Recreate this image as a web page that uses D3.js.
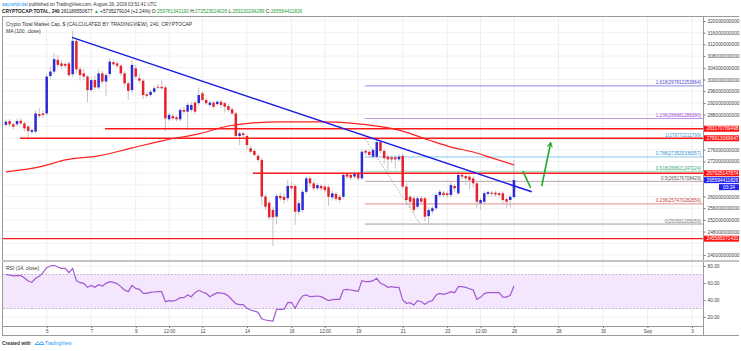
<!DOCTYPE html>
<html>
<head>
<meta charset="utf-8">
<script src="https://cdnjs.cloudflare.com/ajax/libs/d3/7.8.5/d3.min.js"></script>
<style>
  body { margin: 0; background: #fff; }
  svg { display: block; font-family: "Liberation Sans", Arial, sans-serif; }
</style>
</head>
<body>
<div class="canvas"></div>
<script>
// 4h bars from Aug 3 2019 04:00 UTC, prices in billions of USD
const candleOpen = [
  284.5, 285.8, 284.7, 284.7, 285.9, 285.0, 283.9, 282.1, 282.2, 288.2, 288.4,
  288.4, 301.2, 302.7, 306.7, 305.5, 305.3, 305.5, 301.8, 313.2, 303.5,
  302.1, 301.0, 296.4, 299.8, 297.3, 302.1, 299.3, 301.9, 305.9, 305.5,
  304.7, 302.1, 298.7, 296.4, 303.8, 300.4, 299.6, 294.9, 294.7, 295.8,
  297.5, 297.5, 297.3, 286.4, 287.5, 287.1, 286.4, 289.6, 289.0, 289.6,
  292.1, 291.9, 295.3, 293.0, 291.3, 292.1, 291.6, 292.4, 291.9, 290.9,
  289.8, 288.4, 280.7, 281.6, 280.7, 276.5, 275.6, 273.9, 272.5, 260.0,
  257.9, 255.4, 253.1, 260.2, 259.9, 259.4, 263.6, 263.6, 254.8, 255.4,
  261.6, 266.2, 264.5, 262.8, 263.6, 263.4, 263.2, 259.7, 260.9, 259.9,
  259.9, 267.6, 267.4, 266.8, 267.9, 266.2, 275.6, 275.3, 273.6, 273.6,
  278.6, 275.6, 273.6, 273.4, 273.4, 272.7, 273.9, 263.4, 259.9, 259.4,
  256.5, 259.4, 259.4, 253.3, 255.0, 256.0, 260.5, 261.3, 261.1, 260.5,
  263.6, 261.1, 267.4, 267.0, 266.8, 266.2, 264.5, 257.7, 258.2, 260.9,
  261.3, 261.3, 261.1, 261.1, 259.1, 258.8, 259.8
]
const candleClose = [
  285.6, 284.7, 283.9, 285.8, 285.0, 283.3, 282.4, 282.7, 288.4, 287.6, 287.9,
  301.0, 302.7, 307.0, 305.0, 304.6, 304.7, 301.5, 313.2, 303.5, 301.5,
  301.0, 296.4, 299.8, 297.3, 302.1, 299.3, 301.5, 306.1, 305.2, 304.7,
  302.1, 298.7, 296.1, 305.0, 301.0, 299.6, 294.7, 294.4, 295.8, 297.0,
  297.2, 297.0, 286.7, 287.9, 286.7, 286.4, 289.6, 289.0, 291.3, 291.3,
  289.0, 294.7, 293.0, 291.9, 292.1, 290.7, 292.4, 291.3, 290.7, 289.6,
  288.4, 280.7, 281.6, 281.0, 277.6, 275.3, 274.2, 272.5, 260.0, 256.5,
  252.9, 252.9, 260.2, 259.4, 258.8, 263.6, 262.8, 254.8, 257.7, 261.6,
  266.2, 264.5, 262.8, 263.9, 262.8, 262.2, 259.9, 261.1, 259.2, 258.8,
  267.4, 266.8, 266.4, 267.9, 266.2, 275.3, 275.0, 274.2, 275.9, 278.6,
  275.6, 273.1, 272.7, 272.7, 272.7, 273.6, 263.4, 258.8, 258.2, 255.4,
  259.4, 258.2, 253.1, 255.4, 256.0, 260.5, 261.6, 260.5, 260.5, 263.9,
  262.8, 267.4, 266.8, 266.2, 265.6, 264.5, 258.2, 258.8, 261.1, 261.5,
  260.9, 260.7, 260.5, 258.8, 258.2, 259.9, 265.6
]
const candleHigh = [
  286.5, 286.6, 285.3, 286.6, 286.8, 285.7, 284.6, 283.2, 289.6, 290.3, 289.4,
  301.8, 304.5, 309.0, 308.4, 306.5, 306.0, 306.2, 316.8, 313.8, 304.5,
  303.5, 301.6, 300.6, 301.2, 303.5, 303.0, 302.1, 307.3, 306.8, 306.4,
  305.2, 302.8, 299.5, 306.8, 305.0, 301.8, 300.3, 295.6, 296.4, 297.7,
  298.5, 299.7, 297.9, 288.6, 288.2, 287.7, 290.3, 290.6, 292.0, 292.3,
  292.8, 297.2, 296.0, 293.8, 292.8, 292.7, 293.0, 293.0, 292.4, 291.6,
  290.5, 289.0, 282.3, 282.2, 281.3, 277.4, 276.2, 274.6, 273.2, 260.8,
  258.6, 256.3, 261.0, 261.3, 261.0, 265.6, 265.0, 264.3, 258.8, 262.5,
  267.2, 266.9, 265.2, 264.6, 264.3, 264.0, 263.9, 261.8, 261.6, 260.5,
  268.4, 268.3, 268.1, 268.6, 268.6, 276.2, 276.3, 276.0, 276.8, 279.3,
  279.2, 276.2, 274.3, 274.0, 274.1, 274.5, 274.5, 264.5, 260.5, 260.2,
  260.3, 260.3, 260.0, 256.3, 256.8, 261.4, 262.4, 262.0, 261.8, 264.8,
  264.3, 268.3, 268.1, 267.7, 267.5, 267.0, 265.2, 259.6, 261.8, 262.2,
  262.0, 262.0, 261.8, 261.8, 259.7, 260.6, 272.5
]
const candleLow = [
  283.9, 284.0, 283.0, 284.0, 284.5, 282.2, 279.4, 281.2, 281.5, 286.9, 287.0,
  287.5, 300.3, 301.9, 304.2, 303.5, 303.8, 300.8, 301.0, 302.3, 299.5,
  299.8, 292.1, 295.6, 296.4, 296.6, 298.4, 294.3, 301.0, 304.6, 303.9,
  301.3, 297.6, 293.0, 295.6, 300.1, 298.6, 293.3, 293.6, 294.0, 295.3,
  296.6, 296.4, 282.3, 285.8, 286.0, 285.7, 285.8, 288.3, 282.6, 288.8,
  288.2, 291.0, 292.4, 291.2, 290.6, 290.0, 291.0, 290.3, 288.7, 289.0,
  287.8, 279.9, 277.6, 280.2, 276.2, 274.7, 273.6, 271.8, 257.0, 255.3,
  252.0, 243.0, 250.4, 258.6, 257.6, 258.2, 261.9, 250.3, 253.8, 254.5,
  260.9, 263.3, 262.0, 262.2, 262.1, 261.5, 256.9, 258.6, 258.4, 257.8,
  259.2, 266.0, 265.6, 266.1, 265.3, 265.6, 274.2, 273.2, 272.9, 272.9,
  274.8, 271.0, 268.9, 271.5, 269.5, 272.0, 262.5, 257.0, 256.0, 254.2,
  255.6, 257.2, 251.5, 250.6, 254.0, 255.3, 259.7, 259.8, 259.5, 259.8,
  261.5, 260.5, 265.8, 264.0, 262.5, 263.0, 256.2, 255.4, 257.3, 260.2,
  260.1, 259.9, 259.6, 257.5, 256.2, 256.3, 259.2
]
const rsiValues = [
  70.2, 69.2, 68.4, 68.6, 68.8, 65.9, 62.3, 60.8, 65.5, 67.8, 72.1,
  78.0, 80.0, 80.8, 78.8, 77.2, 77.2, 72.1, 77.2, 62.7, 60.4,
  59.6, 54.9, 57.2, 54.9, 58.0, 56.5, 59.6, 61.6, 60.8, 59.2,
  55.7, 51.8, 49.8, 57.2, 53.7, 52.5, 47.8, 47.8, 49.0, 49.4,
  49.8, 49.8, 38.0, 39.2, 38.8, 40.0, 42.7, 42.7, 45.9, 43.9,
  48.6, 51.4, 49.4, 47.8, 43.9, 46.3, 48.6, 48.2, 47.5, 44.7,
  40.0, 35.7, 34.5, 34.5, 30.2, 28.2, 27.0, 25.5, 18.0, 16.5,
  15.7, 15.3, 29.0, 29.0, 29.0, 36.9, 37.3, 30.2, 38.8, 44.7,
  45.9, 43.9, 44.3, 44.7, 43.9, 41.6, 39.2, 40.4, 40.8, 40.8,
  51.8, 52.5, 51.8, 51.0, 50.2, 62.7, 61.6, 61.6, 62.7, 65.5,
  59.6, 58.0, 54.9, 55.7, 54.9, 54.9, 40.0, 36.1, 36.9, 34.1,
  39.2, 38.0, 34.9, 38.0, 39.2, 45.9, 47.8, 46.7, 47.8, 49.8,
  48.6, 55.7, 55.7, 54.9, 53.3, 51.8, 40.8, 43.1, 47.5, 48.6,
  48.6, 48.6, 48.6, 43.5, 43.5, 45.5, 56.5
]

// MA(100, close) read at some bars (bar index, billions)
const maBars = [0, 10, 16, 25, 34, 43, 52, 60, 66, 74, 85, 93, 101, 106, 114, 120, 126, 131, 137]
const maValues = [268.4, 270.4, 272.5, 273.9, 276.6, 279.3, 281.4, 284.1, 285.1, 285.5, 285.5, 285.1, 283.9, 282.7, 279.3, 276.9, 275.2, 273.2, 270.8]

// time axis
const timeTicks = ['2019-08-05T00:00Z', '2019-08-07T00:00Z', '2019-08-09T00:00Z', '2019-08-10T12:00Z', '2019-08-12T00:00Z',
  '2019-08-14T00:00Z', '2019-08-16T00:00Z', '2019-08-17T12:00Z', '2019-08-19T00:00Z', '2019-08-21T00:00Z',
  '2019-08-23T00:00Z', '2019-08-24T12:00Z', '2019-08-26T00:00Z', '2019-08-28T00:00Z', '2019-08-30T00:00Z',
  '2019-09-01T00:00Z', '2019-09-03T00:00Z']
const timeLabels = ['5', '7', '9', '12:00', '12', '14', '16', '12:00', '19', '21', '23', '12:00', '26', '28', '30', 'Sep', '3']

const priceTicks = d3.range(240, 321, 4)
const rsiTicks = [20, 40, 60, 80]

// drawn horizontal levels (full units) and the bar where each starts
const redLevels = [283170789498, 279913069647, 267925147874, 245585071431]
const redLevelStart = [26.7, 3.8, 66.6, -2]
const lastPrice = 265594411826

// fibonacci retracement
const fibRatios = [0, 0.236, 0.5, 0.618, 0.786, 1, 1.236, 1.618]
const fibZero = 250581205059
const fibOne = 279772211799
const fibLine = ['#a0a0a0', '#e48a8a', '#bda3ad', '#95dcbd', '#86c6ea', '#86b8dc', '#c592ea', '#8f8ff0']
const fibText = ['#808080', '#c83a3a', '#555555', '#2fa870', '#2f8fd0', '#3a9ad0', '#a046d6', '#4a4ad6']
const fibBars = [96.8, 111.7]

// blue trend line and green arrows (bar index, billions)
const trendBars = [17.8, 141.8]
const trendValues = [314.4, 261.6]
const arrowDown = { bars: [139.4, 141.5], values: [268.7, 263.0] }
const arrowUp = { bars: [144.5, 146.9], values: [263.6, 278.4] }

// layout
const dims = { left: 3, right: 703, top: 17, mainBottom: 260, rsiTop: 262, rsiBottom: 326, bottom: 336, axisRight: 739 }

const svg = d3.select('.canvas')
  .append('svg')
  .attr('width', 741)
  .attr('height', 351)

const H4 = 4 * 3600e3
const firstBar = Date.UTC(2019, 7, 3, 4)
const barTime = i => new Date(firstBar + i * H4)

// scales
const x = d3.scaleUtc()
  .domain([new Date(Date.UTC(2019, 7, 3, 0, 52)), new Date(Date.UTC(2019, 8, 3, 11, 55))])
  .range([dims.left, dims.right])
const y = d3.scaleLinear().domain([240, 320]).range([255, 21])
const yR = d3.scaleLinear().domain([20, 80]).range([317, 266])
const bx = i => x(barTime(i))

const defs = svg.append('defs')
defs.append('clipPath').attr('id', 'clipMain').append('rect')
  .attr('x', dims.left).attr('y', dims.top).attr('width', dims.right - dims.left).attr('height', dims.mainBottom - dims.top)
defs.append('clipPath').attr('id', 'clipRsi').append('rect')
  .attr('x', dims.left).attr('y', dims.rsiTop).attr('width', dims.right - dims.left).attr('height', dims.rsiBottom - dims.rsiTop)
defs.append('marker').attr('id', 'head')
  .attr('viewBox', '0 0 10 10').attr('refX', 8).attr('refY', 5)
  .attr('markerWidth', 4).attr('markerHeight', 4).attr('orient', 'auto')
  .append('path').attr('d', 'M1,1 L8,5 L1,9').attr('fill', 'none').attr('stroke', '#1fa82a').attr('stroke-width', 1.6)

// grid
const grid = svg.append('g')
grid.selectAll('.gv').data(timeTicks).join('line').attr('class', 'gv')
  .attr('x1', d => x(new Date(d))).attr('x2', d => x(new Date(d)))
  .attr('y1', dims.top).attr('y2', dims.rsiBottom)
  .attr('stroke', '#efefef')
grid.selectAll('.gh').data(priceTicks).join('line').attr('class', 'gh')
  .attr('x1', dims.left).attr('x2', dims.right)
  .attr('y1', d => y(d)).attr('y2', d => y(d))
  .attr('stroke', '#f1f1f1')
grid.selectAll('.gr').data(rsiTicks).join('line').attr('class', 'gr')
  .attr('x1', dims.left).attr('x2', dims.right)
  .attr('y1', d => yR(d)).attr('y2', d => yR(d))
  .attr('stroke', '#f1f1f1')

// main pane
const main = svg.append('g').attr('clip-path', 'url(#clipMain)')

// fib levels
const fibG = main.append('g')
fibRatios.forEach((r, i) => {
  const v = (fibZero + r * (fibOne - fibZero)) / 1e9
  fibG.append('line')
    .attr('x1', bx(fibBars[0])).attr('x2', dims.right)
    .attr('y1', y(v)).attr('y2', y(v))
    .attr('stroke', fibLine[i]).attr('stroke-width', 1)
  fibG.append('text')
    .attr('x', dims.right - 2).attr('y', y(v) - 1.5)
    .attr('text-anchor', 'end')
    .attr('font-size', 4.6)
    .attr('fill', fibText[i])
    .text(`${r}(${Math.round(fibZero + r * (fibOne - fibZero))})`)
})
fibG.append('line')
  .attr('x1', bx(fibBars[0])).attr('y1', y(fibOne / 1e9))
  .attr('x2', bx(fibBars[1])).attr('y2', y(fibZero / 1e9))
  .attr('stroke', '#aaa').attr('stroke-dasharray', '1.5 1.5')

// candles
const candles = candleOpen.map((o, i) => ({ i, o, h: candleHigh[i], l: candleLow[i], c: candleClose[i] }))
const upColor = '#2a2ad6'
const downColor = '#e8202a'
main.selectAll('.wick').data(candles).join('line').attr('class', 'wick')
  .attr('x1', d => bx(d.i)).attr('x2', d => bx(d.i))
  .attr('y1', d => y(d.h)).attr('y2', d => y(d.l))
  .attr('stroke', '#bdbdbd').attr('stroke-width', 0.9)
main.selectAll('.body').data(candles).join('rect').attr('class', 'body')
  .attr('x', d => bx(d.i) - 1.25)
  .attr('width', 2.5)
  .attr('y', d => y(Math.max(d.o, d.c)))
  .attr('height', d => Math.max(0.8, Math.abs(y(d.o) - y(d.c))))
  .attr('fill', d => d.c >= d.o ? upColor : downColor)

// red levels
main.selectAll('.lvl').data(redLevels).join('line').attr('class', 'lvl')
  .attr('x1', (d, i) => bx(redLevelStart[i])).attr('x2', dims.right)
  .attr('y1', d => y(d / 1e9)).attr('y2', d => y(d / 1e9))
  .attr('stroke', '#ff1a1a').attr('stroke-width', 1.4)

// moving average
const ma = d3.line().x(d => bx(d[0])).y(d => y(d[1])).curve(d3.curveMonotoneX)
main.append('path')
  .datum(maBars.map((b, i) => [b, maValues[i]]))
  .attr('d', ma)
  .attr('fill', 'none').attr('stroke', '#ff1f1f').attr('stroke-width', 1.2)

// trend line
main.append('line')
  .attr('x1', bx(trendBars[0])).attr('y1', y(trendValues[0]))
  .attr('x2', bx(trendBars[1])).attr('y2', y(trendValues[1]))
  .attr('stroke', '#1c1ce6').attr('stroke-width', 1.5)

// green arrows
main.append('line')
  .attr('x1', bx(arrowDown.bars[0])).attr('y1', y(arrowDown.values[0]))
  .attr('x2', bx(arrowDown.bars[1])).attr('y2', y(arrowDown.values[1]))
  .attr('stroke', '#1fa82a').attr('stroke-width', 1.6)
main.append('line')
  .attr('x1', bx(arrowUp.bars[0])).attr('y1', y(arrowUp.values[0]))
  .attr('x2', bx(arrowUp.bars[1])).attr('y2', y(arrowUp.values[1]))
  .attr('stroke', '#1fa82a').attr('stroke-width', 1.6)
  .attr('marker-end', 'url(#head)')

// pane titles
svg.append('text').attr('x', 6).attr('y', 25.5).attr('font-size', 5).attr('fill', '#333')
  .text('Crypto Total Market Cap, $ (CALCULATED BY TRADINGVIEW), 240, CRYPTOCAP')
svg.append('text').attr('x', 6).attr('y', 33).attr('font-size', 5).attr('fill', '#333')
  .text('MA (100, close)')

// RSI pane
const rsiG = svg.append('g').attr('clip-path', 'url(#clipRsi)')
rsiG.append('rect')
  .attr('x', dims.left).attr('width', dims.right - dims.left)
  .attr('y', yR(70)).attr('height', yR(30) - yR(70))
  .attr('fill', '#f3e6fd')
rsiG.selectAll('.band').data([70, 30]).join('line').attr('class', 'band')
  .attr('x1', dims.left).attr('x2', dims.right)
  .attr('y1', d => yR(d)).attr('y2', d => yR(d))
  .attr('stroke', '#b9a9c2').attr('stroke-dasharray', '2 1.5').attr('stroke-width', 0.8)
rsiG.append('path')
  .datum(rsiValues)
  .attr('d', d3.line().x((d, i) => bx(i)).y(d => yR(d)))
  .attr('fill', 'none').attr('stroke', '#a05ad2').attr('stroke-width', 1.2)
svg.append('text').attr('x', 6).attr('y', 270).attr('font-size', 5).attr('fill', '#333')
  .text('RSI (14, close)')

// frame
const frame = svg.append('g').attr('fill', 'none')
frame.append('line').attr('x1', 2).attr('x2', dims.axisRight).attr('y1', 16.5).attr('y2', 16.5).attr('stroke', '#9a9a9a').attr('stroke-width', 1.2)
frame.append('line').attr('x1', 2.5).attr('x2', 2.5).attr('y1', 16).attr('y2', dims.bottom).attr('stroke', '#9a9a9a')
frame.append('line').attr('x1', 2).attr('x2', dims.axisRight).attr('y1', dims.bottom - 0.5).attr('y2', dims.bottom - 0.5).attr('stroke', '#9a9a9a')
frame.append('line').attr('x1', dims.right + 0.5).attr('x2', dims.right + 0.5).attr('y1', 16).attr('y2', dims.bottom).attr('stroke', '#9a9a9a')
frame.append('line').attr('x1', 2).attr('x2', dims.axisRight).attr('y1', 261).attr('y2', 261).attr('stroke', '#c4c4c4').attr('stroke-width', 2)
frame.append('line').attr('x1', 2).attr('x2', dims.right).attr('y1', dims.rsiBottom + 0.5).attr('y2', dims.rsiBottom + 0.5).attr('stroke', '#9a9a9a')

// price axis
const boxValues = redLevels.concat([lastPrice]).map(d => d / 1e9)
const shownTicks = priceTicks.filter(t => boxValues.every(b => Math.abs(y(t) - y(b)) > 5))
const priceAxis = svg.append('g')
  .attr('transform', `translate(${dims.right + 0.5},0)`)
  .call(d3.axisRight(y).tickValues(shownTicks).tickSize(2).tickPadding(2)
    .tickFormat(d => d3.format('d')(d * 1e9)))
priceAxis.select('.domain').remove()
priceAxis.selectAll('text').attr('font-size', 4.8).attr('fill', '#444').attr('font-family', null)
priceAxis.selectAll('line').attr('stroke', '#777')

const rsiAxis = svg.append('g')
  .attr('transform', `translate(${dims.right + 0.5},0)`)
  .call(d3.axisRight(yR).tickValues(rsiTicks).tickSize(2).tickPadding(2).tickFormat(d3.format('.2f')))
rsiAxis.select('.domain').remove()
rsiAxis.selectAll('text').attr('font-size', 4.8).attr('fill', '#444').attr('font-family', null)
rsiAxis.selectAll('line').attr('stroke', '#777')

// level boxes on the price axis
const boxes = svg.append('g')
redLevels.forEach(v => {
  boxes.append('rect').attr('x', dims.right + 1).attr('width', 35).attr('y', y(v / 1e9) - 3).attr('height', 6).attr('fill', '#ff1010')
  boxes.append('text').attr('x', dims.right + 3.5).attr('y', y(v / 1e9) + 1.7).attr('font-size', 4.8).attr('fill', '#fff').text(v)
})
boxes.append('rect').attr('x', dims.right + 1).attr('width', 35).attr('y', y(lastPrice / 1e9) - 3).attr('height', 6).attr('fill', '#2424ee')
boxes.append('text').attr('x', dims.right + 3.5).attr('y', y(lastPrice / 1e9) + 1.7).attr('font-size', 4.8).attr('fill', '#fff').text(lastPrice)
boxes.append('rect').attr('x', dims.right + 16).attr('width', 20).attr('y', y(lastPrice / 1e9) + 4).attr('height', 6).attr('fill', '#2424ee')
boxes.append('text').attr('x', dims.right + 26).attr('y', y(lastPrice / 1e9) + 8.7).attr('text-anchor', 'middle').attr('font-size', 4.8).attr('fill', '#fff').text('03:24')

// time axis
const timeAxis = svg.append('g')
  .attr('transform', `translate(0,${dims.rsiBottom + 0.5})`)
  .call(d3.axisBottom(x).tickValues(timeTicks.map(d => new Date(d))).tickSize(1.5).tickPadding(1.5)
    .tickFormat((d, i) => timeLabels[i]))
timeAxis.select('.domain').remove()
timeAxis.selectAll('text').attr('font-size', 4.6).attr('fill', '#444').attr('font-family', null)
timeAxis.selectAll('line').attr('stroke', '#777')

// header
const h1 = svg.append('text').attr('x', 2).attr('y', 6).attr('font-size', 4.6).attr('fill', '#333')
h1.append('tspan').attr('fill', '#2196f3').text('aayushjindal')
h1.append('tspan').text(' published on TradingView.com, August 26, 2019 03:51:41 UTC')

const h2 = svg.append('text').attr('x', 2).attr('y', 13).attr('font-size', 4.8).attr('fill', '#222').attr('font-weight', 'bold')
h2.append('tspan').text('CRYPTOCAP:TOTAL, 240 ')
h2.append('tspan').attr('font-weight', 'normal').text('261189550677 ')
h2.append('tspan').attr('fill', '#21a336').text('▲')
h2.append('tspan').attr('font-weight', 'normal').text(' +5735279104 (+2.24%) ')
const ohlc = [['O:', '259781342190'], ['H:', '272523624028'], ['L:', '259230294289'], ['C:', '265594411826']]
ohlc.forEach(([k, v]) => {
  h2.append('tspan').attr('font-weight', 'normal').text(k)
  h2.append('tspan').attr('font-weight', 'normal').attr('fill', '#21a336').text(v + ' ')
})

// footer
const foot = svg.append('g').attr('transform', 'translate(2,345)')
foot.append('text').attr('x', 0).attr('y', 0).attr('font-size', 4.8).attr('font-weight', 'bold').attr('fill', '#333').text('Created with')
foot.append('path').attr('d', 'M33,-0.5 L35.5,-3.2 L37.5,-1.5 L40,-3.5 L42,-0.5 Z')
  .attr('fill', 'none').attr('stroke', '#2196f3').attr('stroke-width', 0.8)
foot.append('text').attr('x', 43).attr('y', 0).attr('font-size', 4.8).attr('fill', '#2196f3').text('TradingView')
</script>
</body>
</html>
